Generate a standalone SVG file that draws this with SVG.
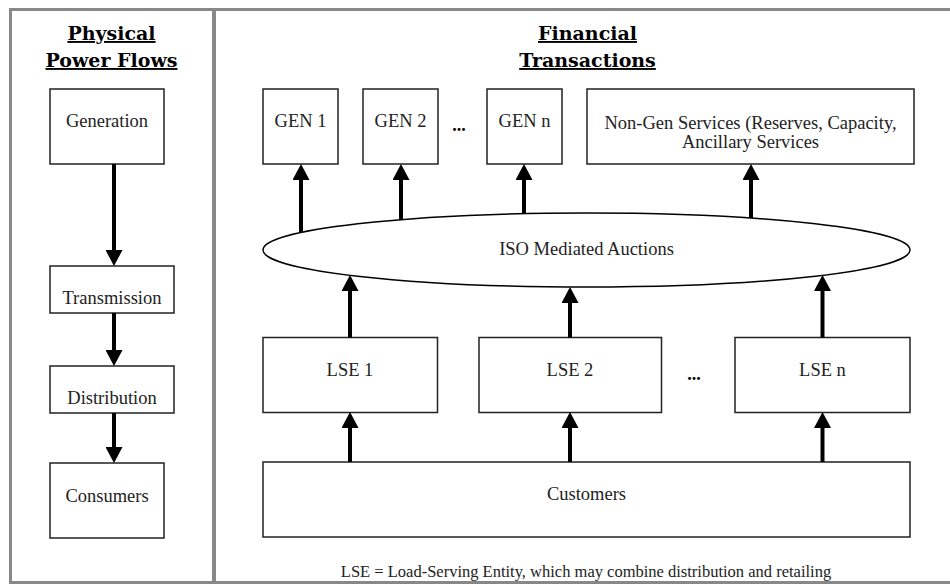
<svg xmlns="http://www.w3.org/2000/svg" width="950" height="584" viewBox="0 0 950 584">
<style>
.box{fill:#fff;stroke:#222;stroke-width:1.5}
.lbl{font-family:"Liberation Serif",serif;font-size:18.5px;fill:#222;text-anchor:middle}
.hdr{font-family:"DejaVu Serif",serif;font-weight:bold;font-size:19px;fill:#000;text-anchor:middle;text-decoration:underline}
.dots{font-family:"Liberation Serif",serif;font-weight:bold;font-size:18px;fill:#000;text-anchor:middle}
.arr{stroke:#000;stroke-width:4;fill:none;marker-end:url(#ah)}
.frame{stroke:#888;fill:none}
</style>
<defs>
<marker id="ah" markerUnits="userSpaceOnUse" viewBox="0 -8.5 16 17" refX="1" refY="0" markerWidth="16" markerHeight="17" orient="auto">
<path d="M0,-8.5 L16,0 L0,8.5 Z" fill="#000"/>
</marker>
</defs>
<rect width="950" height="584" fill="#fff"/>
<g id="frame">
<path class="frame" stroke-width="3" d="M10.5,8 V584 M9,9.5 H950 M9,582.5 H950"/>
<path class="frame" stroke-width="4" d="M214,8 V584"/>
</g>
<g id="headers">
<text class="hdr" x="111.5" y="40">Physical</text>
<text class="hdr" x="111.5" y="67">Power Flows</text>
<text class="hdr" x="587.5" y="40">Financial</text>
<text class="hdr" x="587.5" y="67">Transactions</text>
</g>
<g id="generation"><rect class="box" x="50" y="89" width="114" height="75"/><text class="lbl" x="107" y="127">Generation</text></g>
<g id="transmission"><rect class="box" x="50" y="266" width="124" height="47"/><text class="lbl" x="112" y="304">Transmission</text></g>
<g id="distribution"><rect class="box" x="50" y="366" width="124" height="47"/><text class="lbl" x="112" y="404">Distribution</text></g>
<g id="consumers"><rect class="box" x="50" y="463" width="114" height="75"/><text class="lbl" x="107" y="502">Consumers</text></g>
<g id="gen1"><rect class="box" x="263" y="89" width="75" height="75"/><text class="lbl" x="300.5" y="127">GEN 1</text></g>
<g id="gen2"><rect class="box" x="363" y="89" width="75" height="75"/><text class="lbl" x="400.5" y="127">GEN 2</text></g>
<text class="dots" x="459" y="131">...</text>
<g id="genn"><rect class="box" x="487" y="89" width="75" height="75"/><text class="lbl" x="524.5" y="127">GEN n</text></g>
<g id="nongen"><rect class="box" x="587" y="89" width="327" height="75"/><text class="lbl" x="750.5" y="129">Non-Gen Services (Reserves, Capacity,</text><text class="lbl" x="750.5" y="148">Ancillary Services</text></g>
<g id="iso"><ellipse fill="#fff" stroke="#000" stroke-width="1.5" cx="586.5" cy="250" rx="323.5" ry="37"/><text class="lbl" x="586.5" y="255">ISO Mediated Auctions</text></g>
<g id="lse1"><rect class="box" x="263" y="337.5" width="174.5" height="75"/><text class="lbl" x="350" y="376">LSE 1</text></g>
<g id="lse2"><rect class="box" x="479" y="337.5" width="182.5" height="75"/><text class="lbl" x="570" y="376">LSE 2</text></g>
<text class="dots" x="694" y="380">...</text>
<g id="lsen"><rect class="box" x="735" y="337.5" width="175" height="75"/><text class="lbl" x="822.5" y="376">LSE n</text></g>
<g id="customers"><rect class="box" x="263" y="462" width="647" height="75"/><text class="lbl" x="586.5" y="500">Customers</text></g>
<text id="note" x="586" y="577" font-family="Liberation Serif, serif" font-size="16.5" fill="#222" text-anchor="middle">LSE = Load-Serving Entity, which may combine distribution and retailing</text>
<g id="connectors">
<line class="arr" x1="114" y1="164" x2="114" y2="251"/>
<line class="arr" x1="114" y1="313" x2="114" y2="351"/>
<line class="arr" x1="114" y1="413" x2="114" y2="448"/>
<line class="arr" x1="301" y1="233" x2="301" y2="179"/>
<line class="arr" x1="401" y1="220" x2="401" y2="179"/>
<line class="arr" x1="524" y1="214" x2="524" y2="179"/>
<line class="arr" x1="751" y1="218" x2="751" y2="179"/>
<line class="arr" x1="350" y1="337.5" x2="350" y2="290"/>
<line class="arr" x1="570" y1="337.5" x2="570" y2="302"/>
<line class="arr" x1="822.5" y1="337.5" x2="822.5" y2="290"/>
<line class="arr" x1="350" y1="462" x2="350" y2="427"/>
<line class="arr" x1="570" y1="462" x2="570" y2="427"/>
<line class="arr" x1="822.5" y1="462" x2="822.5" y2="427"/>
</g>
</svg>
